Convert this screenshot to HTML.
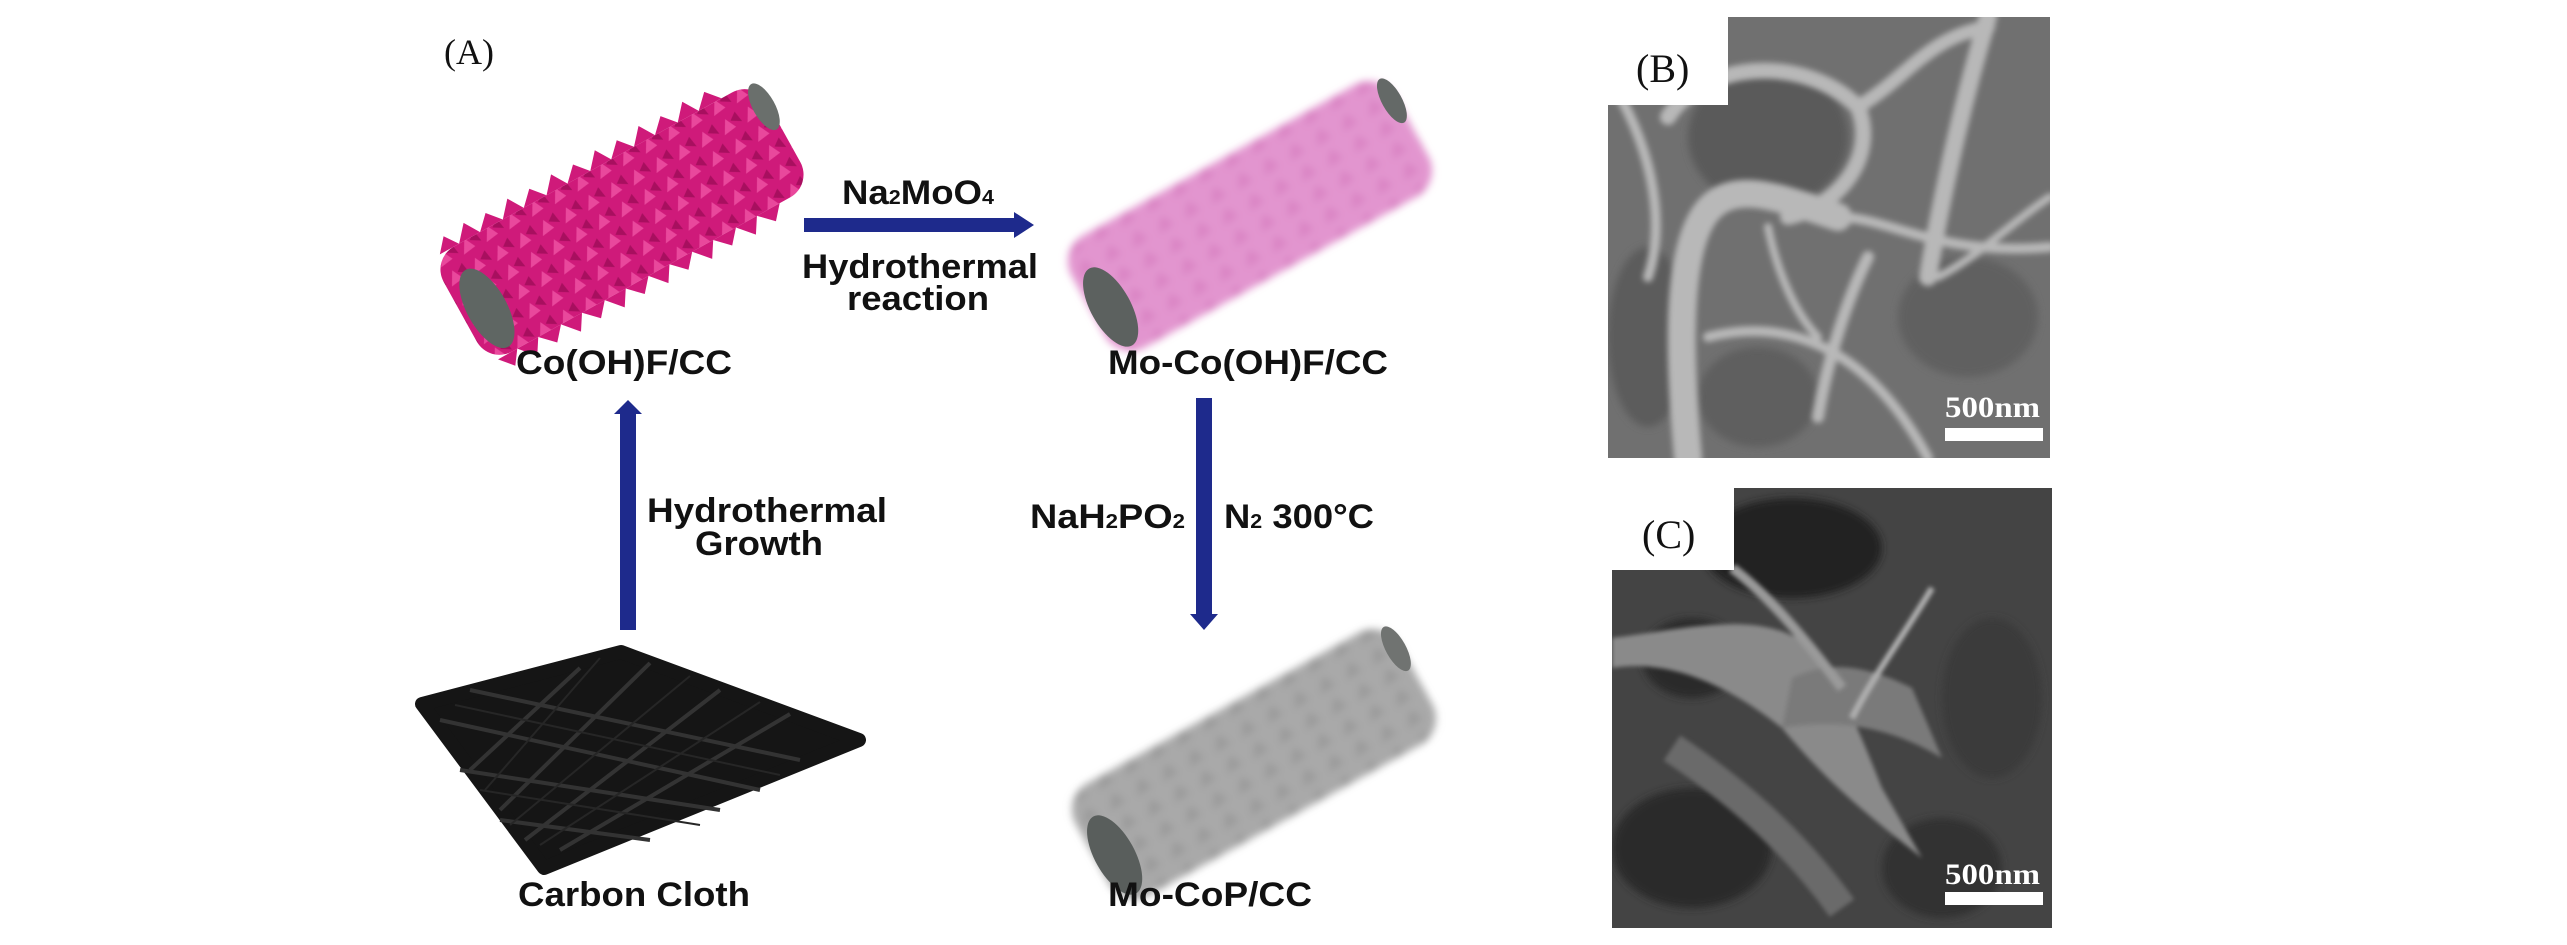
<!DOCTYPE html>
<html><head><meta charset="utf-8">
<style>
html,body{margin:0;padding:0;background:#fff;}
svg{display:block;}
.lb{font-family:"Liberation Sans",Arial,sans-serif;font-weight:bold;font-size:34px;fill:#111;}
.sf{font-family:"Liberation Serif",serif;fill:#111;}
</style></head>
<body>
<svg width="2567" height="945" viewBox="0 0 2567 945" xmlns="http://www.w3.org/2000/svg">
<defs>
  <filter id="bl2"><feGaussianBlur stdDeviation="2"/></filter>
  <filter id="bl3"><feGaussianBlur stdDeviation="3"/></filter>
  <filter id="bl4"><feGaussianBlur stdDeviation="4"/></filter>
  <pattern id="spk" width="26" height="22" patternUnits="userSpaceOnUse">
    <rect width="26" height="22" fill="#cf1a7a"/>
    <path d="M2 18 L10 4 L16 16 Z" fill="#e9489c"/>
    <path d="M14 8 L22 2 L24 14 Z" fill="#a80f5f"/>
  </pattern>
  <pattern id="spk2" width="30" height="24" patternUnits="userSpaceOnUse">
    <rect width="30" height="24" fill="#e295cf"/>
    <path d="M2 20 L12 4 L20 18 Z" fill="#d983c3"/>
  </pattern>
  <pattern id="spk3" width="30" height="24" patternUnits="userSpaceOnUse">
    <rect width="30" height="24" fill="#a9a9a9"/>
    <path d="M2 20 L12 4 L20 18 Z" fill="#9a9a9a"/>
  </pattern>
</defs>

<text class="sf" x="444" y="64" font-size="36">(A)</text>

<!-- Cylinder 1 -->
<g transform="translate(622,222) rotate(-29)">
  <rect x="-185" y="-60" width="370" height="120" rx="26" fill="url(#spk)"/>
  <g fill="#cf1a7a">
    <path d="M-175 -60 l12 -14 l10 14 l14 -16 l10 16 l14 -14 l12 14 l14 -16 l10 16 l14 -14 l12 14 l14 -16 l10 16 l14 -14 l12 14 l14 -16 l10 16 l14 -14 l12 14 l14 -16 l10 16 l14 -14 l12 14 l14 -16 l10 16 l14 -14 l12 14 z"/>
    <path d="M-175 60 l12 14 l10 -14 l14 16 l10 -16 l14 14 l12 -14 l14 16 l10 -16 l14 14 l12 -14 l14 16 l10 -16 l14 14 l12 -14 l14 16 l10 -16 l14 14 l12 -14 l14 16 l10 -16 l14 14 l12 -14 l14 16 l10 -16 l14 14 l12 -14 z"/>
  </g>
  <ellipse cx="-160" cy="10" rx="20" ry="44" fill="#5f6663"/>
  <ellipse cx="180" cy="-32" rx="11" ry="26" fill="#6a6f6c"/>
</g>

<!-- Cylinder 2 -->
<g transform="translate(1250,216) rotate(-29)">
  <rect x="-185" y="-64" width="370" height="128" rx="30" fill="url(#spk2)" filter="url(#bl4)"/>
  <ellipse cx="-166" cy="12" rx="20" ry="44" fill="#5c615f"/>
  <ellipse cx="180" cy="-32" rx="10" ry="25" fill="#646967"/>
</g>

<!-- Cylinder 3 -->
<g transform="translate(1254,764) rotate(-29)">
  <rect x="-185" y="-64" width="370" height="128" rx="30" fill="url(#spk3)" filter="url(#bl4)"/>
  <ellipse cx="-166" cy="12" rx="20" ry="44" fill="#595e5c"/>
  <ellipse cx="180" cy="-32" rx="10" ry="25" fill="#707371"/>
</g>

<!-- Carbon cloth -->
<g>
  <polygon points="621,652 859,740 544,868 422,704" fill="#151515" stroke="#151515" stroke-width="14" stroke-linejoin="round"/>
  <g stroke="#333" stroke-width="4" fill="none">
    <path d="M580,668 L470,770"/><path d="M650,663 L500,810"/><path d="M720,690 L525,840"/><path d="M790,714 L560,850"/>
    <path d="M470,690 L800,760"/><path d="M440,720 L760,790"/><path d="M460,770 L720,810"/><path d="M500,820 L650,840"/>
  </g>
  <g stroke="#262626" stroke-width="2" fill="none">
    <path d="M600,658 L485,790"/><path d="M690,676 L510,825"/><path d="M760,702 L540,845"/>
    <path d="M455,705 L780,775"/><path d="M480,790 L700,825"/>
  </g>
</g>

<!-- Arrows -->
<rect x="804" y="218" width="214" height="14" fill="#1e2a8c"/>
<polygon points="1014,212 1034,225 1014,238" fill="#1e2a8c"/>
<rect x="620" y="412" width="16" height="218" fill="#1e2a8c"/>
<polygon points="614,414 628,400 642,414" fill="#1e2a8c"/>
<rect x="1196" y="398" width="16" height="218" fill="#1e2a8c"/>
<polygon points="1190,614 1204,630 1218,614" fill="#1e2a8c"/>

<!-- Labels -->
<text class="lb" x="842" y="204" textLength="152" lengthAdjust="spacingAndGlyphs">Na<tspan font-size="20">2</tspan>MoO<tspan font-size="20">4</tspan></text>
<text class="lb" x="802" y="278" textLength="236" lengthAdjust="spacingAndGlyphs">Hydrothermal</text>
<text class="lb" x="847" y="310" textLength="142" lengthAdjust="spacingAndGlyphs">reaction</text>
<text class="lb" x="516" y="374" textLength="216" lengthAdjust="spacingAndGlyphs">Co(OH)F/CC</text>
<text class="lb" x="1108" y="374" textLength="280" lengthAdjust="spacingAndGlyphs">Mo-Co(OH)F/CC</text>
<text class="lb" x="647" y="522" textLength="240" lengthAdjust="spacingAndGlyphs">Hydrothermal</text>
<text class="lb" x="695" y="555" textLength="128" lengthAdjust="spacingAndGlyphs">Growth</text>
<text class="lb" x="1030" y="528" textLength="155" lengthAdjust="spacingAndGlyphs">NaH<tspan font-size="20">2</tspan>PO<tspan font-size="20">2</tspan></text>
<text class="lb" x="1224" y="528" textLength="150" lengthAdjust="spacingAndGlyphs">N<tspan font-size="20">2</tspan> 300°C</text>
<text class="lb" x="518" y="906" textLength="232" lengthAdjust="spacingAndGlyphs">Carbon Cloth</text>
<text class="lb" x="1108" y="906" textLength="204" lengthAdjust="spacingAndGlyphs">Mo-CoP/CC</text>

<!-- SEM B -->
<svg x="1608" y="17" width="442" height="441" viewBox="0 0 442 441">
  <rect width="442" height="441" fill="#707070"/>
  <g filter="url(#bl4)">
    <ellipse cx="160" cy="120" rx="80" ry="70" fill="#5a5a5a"/>
    <ellipse cx="360" cy="300" rx="70" ry="60" fill="#616161"/>
    <ellipse cx="40" cy="320" rx="40" ry="90" fill="#5c5c5c"/>
    <ellipse cx="150" cy="380" rx="60" ry="50" fill="#5e5e5e"/>
  </g>
  <g fill="none" stroke="#b8b8b8" filter="url(#bl3)" stroke-linecap="round">
    <path d="M80 441 C70 330 70 240 95 200 C120 160 170 180 230 200" stroke-width="28"/>
    <path d="M60 100 C100 40 200 40 250 90 C270 140 230 190 180 200" stroke-width="16"/>
    <path d="M250 90 C300 60 320 20 380 10" stroke-width="14"/>
    <path d="M380 0 C350 100 330 200 320 260" stroke-width="18"/>
    <path d="M100 320 C180 300 260 330 320 441" stroke-width="10"/>
    <path d="M230 200 C280 200 330 240 442 230" stroke-width="10"/>
    <path d="M210 400 C220 340 240 280 260 240" stroke-width="12"/>
    <path d="M330 260 C370 240 410 200 442 180" stroke-width="8"/>
    <path d="M160 210 C170 260 190 300 210 320" stroke-width="8"/>
    <path d="M0 60 C40 120 60 200 40 260" stroke-width="10"/>
  </g>
  <rect x="0" y="0" width="120" height="88" fill="#fff"/>
  <text class="sf" x="28" y="65" font-size="40">(B)</text>
  <text class="sf" x="337" y="400" font-size="30" font-weight="bold" style="fill:#fff" textLength="95" lengthAdjust="spacingAndGlyphs">500nm</text>
  <rect x="337" y="411" width="98" height="13" fill="#fff"/>
</svg>

<!-- SEM C -->
<svg x="1612" y="488" width="440" height="440" viewBox="0 0 440 440">
  <rect width="440" height="440" fill="#444"/>
  <g filter="url(#bl4)">
    <ellipse cx="180" cy="60" rx="90" ry="50" fill="#222"/>
    <ellipse cx="80" cy="170" rx="50" ry="40" fill="#2a2a2a"/>
    <ellipse cx="80" cy="360" rx="80" ry="60" fill="#2a2a2a"/>
    <ellipse cx="330" cy="380" rx="60" ry="50" fill="#303030"/>
    <ellipse cx="380" cy="210" rx="50" ry="80" fill="#3a3a3a"/>
  </g>
  <g filter="url(#bl2)">
    <path d="M0 180 C60 170 120 200 170 240 C220 300 260 330 310 370 L270 300 C250 250 230 200 200 160 C150 120 80 140 0 150 Z" fill="#8a8a8a"/>
    <path d="M170 240 C230 230 280 240 330 270 L300 200 C260 180 220 170 180 190 Z" fill="#7a7a7a"/>
    <path d="M120 80 C160 110 200 160 230 200" stroke="#9a9a9a" stroke-width="10" fill="none"/>
    <path d="M240 230 C260 190 290 150 320 100" stroke="#b0b0b0" stroke-width="6" fill="none"/>
    <path d="M60 260 C120 300 180 350 230 420" stroke="#6a6a6a" stroke-width="30" fill="none"/>
  </g>
  <rect x="0" y="0" width="122" height="82" fill="#fff"/>
  <text class="sf" x="30" y="60" font-size="40">(C)</text>
  <text class="sf" x="333" y="396" font-size="30" font-weight="bold" style="fill:#fff" textLength="95" lengthAdjust="spacingAndGlyphs">500nm</text>
  <rect x="333" y="404" width="98" height="13" fill="#fff"/>
</svg>
</svg>
</body></html>
